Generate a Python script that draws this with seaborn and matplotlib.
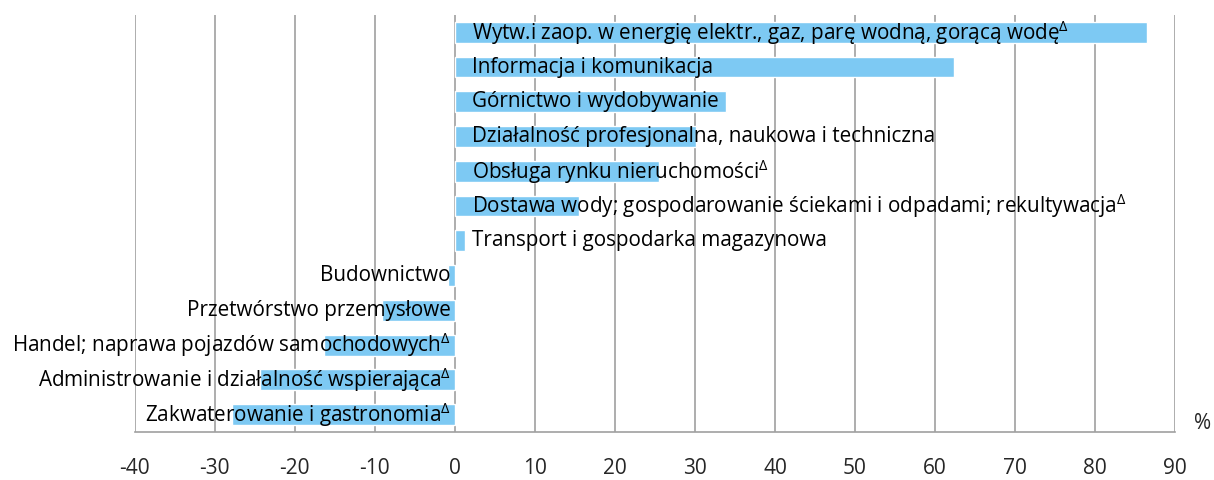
import numpy as np
import pandas as pd
import matplotlib
matplotlib.use("Agg")
import matplotlib.pyplot as plt
import seaborn as sns

# sections (top to bottom) and change in %
sections = [
    "Wytw.i zaop. w energię elektr., gaz, parę wodną, gorącą wodę",
    "Informacja i komunikacja",
    "Górnictwo i wydobywanie",
    "Działalność profesjonalna, naukowa i techniczna",
    "Obsługa rynku nieruchomości",
    "Dostawa wody; gospodarowanie ściekami i odpadami; rekultywacja",
    "Transport i gospodarka magazynowa",
    "Budownictwo",
    "Przetwórstwo przemysłowe",
    "Handel; naprawa pojazdów samochodowych",
    "Administrowanie i działalność wspierająca",
    "Zakwaterowanie i gastronomia",
]
values = [86.5, 62.4, 33.9, 30.1, 25.5, 15.5, 1.3, -0.8, -9.1, -16.4, -24.4, -27.9]
delta_mark = [True, False, False, False, True, True, False, False, False, True, True, True]
x_ticks = list(range(-40, 100, 10))

df = pd.DataFrame({"section": sections, "value": values})

sns.set_style("white")
plt.rcParams["font.family"] = ["Open Sans", "DejaVu Sans"]
plt.rcParams["mathtext.default"] = "regular"

fig, ax = plt.subplots(figsize=(12.14, 4.8), dpi=100)
fig.subplots_adjust(left=0.111, right=0.968, top=0.969, bottom=0.1)

for t in x_ticks:
    ax.axvline(t, color="#a0a0a0", lw=1.2, zorder=0)

sns.barplot(data=df, x="value", y="section", orient="h", color="#7DC9F3",
            width=0.6, saturation=1, ax=ax, zorder=2)

for i, (name, v, d) in enumerate(zip(sections, values, delta_mark)):
    label = name + (r"$^{\Delta}$" if d else "")
    if v >= 0:
        ax.text(2.1, i, label, ha="left", va="center", fontsize=14.9, color="black", zorder=3)
    else:
        ax.text(-0.5, i, label, ha="right", va="center", fontsize=14.9, color="black", zorder=3)

ax.set_xlim(-40, 90)
ax.set_ylim(len(sections) - 0.5, -0.5)
ax.set_xticks(x_ticks)
ax.set_xticklabels([str(t) for t in x_ticks], fontsize=15)
ax.tick_params(axis="x", direction="out", length=6, width=1.2, color="#a0a0a0", pad=13)
ax.set_yticks([])
ax.set_xlabel("")
ax.set_ylabel("")
for s in ["top", "right", "left"]:
    ax.spines[s].set_visible(False)
ax.spines["bottom"].set_color("#a0a0a0")
ax.spines["bottom"].set_linewidth(1.2)
ax.text(1.026, 0.02, "%", transform=ax.transAxes, ha="center", va="center", fontsize=15)

fig.savefig("out.png", dpi=100)
